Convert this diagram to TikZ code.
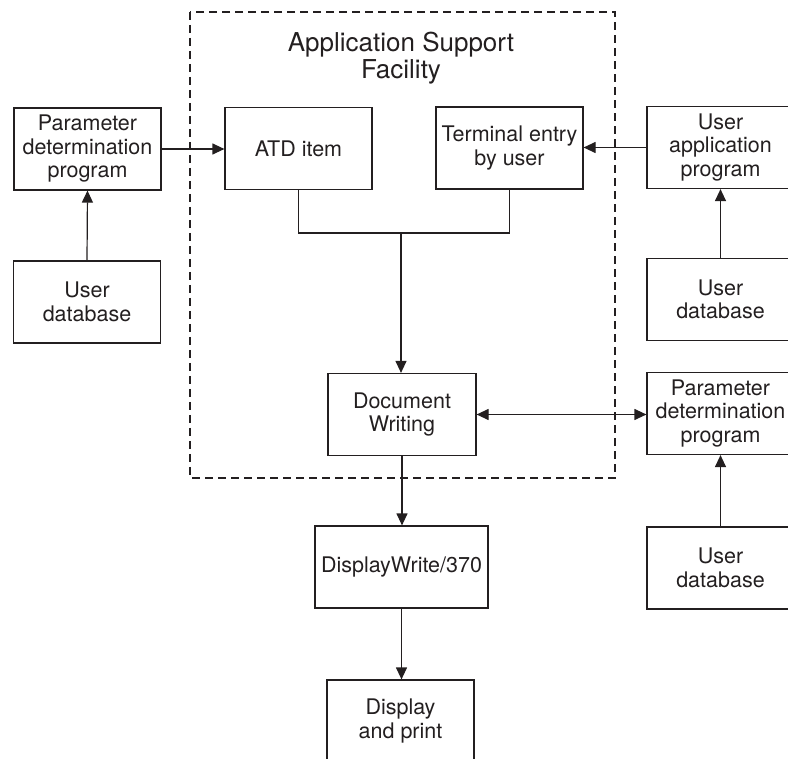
\documentclass[tikz,border=0pt]{standalone}
\usepackage{fontspec}
\setmainfont{TeX Gyre Heros}
\usetikzlibrary{arrows.meta}
\definecolor{ink}{HTML}{231F20}
\begin{document}
\begin{tikzpicture}[x=1pt,y=-1pt,
  every node/.style={text=ink},
  blk/.style={draw=ink, line width=1.2pt, minimum width=147pt, minimum height=82pt,
    inner sep=0pt, align=center, font=\fontsize{21.5}{23.5}\selectfont},
  link/.style={draw=ink, line width=1.2pt},
  arr/.style={link, -{Triangle[length=12pt,width=11pt]}},
  darr/.style={link, {Triangle[length=12pt,width=11pt]}-{Triangle[length=12pt,width=11pt]}}]
\useasboundingbox (0,0) rectangle (788,759);

% Application Support Facility boundary
\draw[ink, line width=1.1pt, dash pattern=on 8pt off 5pt] (190,12) rectangle (615,478);
\node[align=center, font=\fontsize{26}{27.5}\selectfont] (title) at (401,58)
  {Application Support\\Facility};

% blocks
\node[blk] (pL)   at (87.5,149) {Parameter\\determination\\program};
\node[blk] (dbL)  at (87,302)   {User\\database};
\node[blk] (atd)  at (298.5,148.5) {ATD item};
\node[blk] (term) at (509.5,148) {Terminal entry\\by user};
\node[blk] (uapp) at (720.5,147.5) {User\\application\\program};
\node[blk] (dbR)  at (720.5,299.5) {User\\database};
\node[blk, minimum width=148pt] (doc)  at (402,414.5) {Document\\Writing};
\node[blk] (pR)   at (720.5,413.5) {Parameter\\determination\\program};
\node[blk, minimum width=173pt] (dw)   at (401.5,567) {DisplayWrite/370};
\node[blk] (dbR2) at (720.5,568) {User\\database};
\node[blk] (disp) at (400.5,721) {Display\\and print};

% connectors
\coordinate (j) at (401,233);
\draw[arr] (dbL.north) -- (pL.south);
\draw[arr] (pL.east) -- (pL.east -| atd.west);
\draw[arr] (uapp.west) -- (uapp.west -| term.east);
\draw[arr] (dbR.north) -- (uapp.south);
\draw[link] (atd.south) |- (j) -| (term.south);
\draw[arr] (j) -- (j |- doc.north);
\draw[darr] (doc.east) -- (doc.east -| pR.west);
\draw[arr] (dbR2.north) -- (pR.south);
\draw[arr] (doc.south) -- (doc.south |- dw.north);
\draw[arr] (dw.south) -- (dw.south |- disp.north);
\end{tikzpicture}
\end{document}
